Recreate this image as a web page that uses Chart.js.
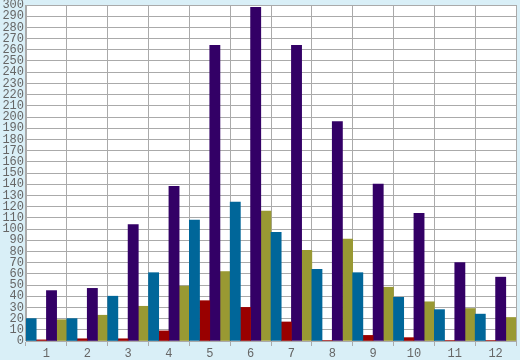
<!DOCTYPE html>
<html>
<head>
<meta charset="utf-8">
<script src="https://cdn.jsdelivr.net/npm/chart.js@4/dist/chart.umd.min.js"></script>
<style>
  html, body { margin: 0; padding: 0; background: #d9eff7; }
  #wrap { width: 520px; height: 360px; position: relative; }
</style>
</head>
<body>
<div id="wrap"><canvas id="c" width="520" height="360"></canvas></div>
<script>
const categories = ['1','2','3','4','5','6','7','8','9','10','11','12'];
const seriesBlue   = [20, 20, 40, 61, 108, 124, 97, 64, 61, 39, 28, 24];
const seriesRed    = [1, 2, 2, 9, 36, 30, 17, 0.5, 5, 3, 0.5, 0.5];
const seriesPurple = [45, 47, 104, 138, 264, 298, 264, 196, 140, 114, 70, 57];
const seriesOlive  = [19, 23, 31, 49, 62, 116, 81, 91, 48, 35, 29, 21];
const yMin = 0, yMax = 300, yStep = 10;

const bgPlugin = {
  id: 'bg',
  beforeDraw(chart) {
    const ctx = chart.ctx, a = chart.chartArea;
    ctx.save();
    ctx.fillStyle = '#d9eff7';
    ctx.fillRect(0, 0, chart.width, chart.height);
    ctx.fillStyle = '#ffffff';
    ctx.fillRect(a.left, a.top, a.right - a.left, a.bottom - a.top);
    ctx.restore();
  }
};

const tickFont = { family: '"Liberation Mono", monospace', size: 12 };

new Chart(document.getElementById('c'), {
  type: 'bar',
  data: {
    labels: categories,
    datasets: [
      { data: seriesBlue, backgroundColor: '#006699' },
      { data: seriesRed, backgroundColor: '#990000' },
      { data: seriesPurple, backgroundColor: '#330066' },
      { data: seriesOlive, backgroundColor: '#999933' }
    ]
  },
  options: {
    responsive: false,
    animation: false,
    events: [],
    layout: { padding: { top: 0, right: 4, left: 0, bottom: 0 } },
    plugins: { legend: { display: false }, tooltip: { enabled: false } },
    datasets: { bar: { barPercentage: 1, categoryPercentage: 1, borderWidth: 0 } },
    scales: {
      x: {
        grid: { color: '#aaaaaa', lineWidth: 1, tickLength: 5, offset: true },
        border: { color: '#aaaaaa', width: 1 },
        ticks: { color: '#666666', font: tickFont, padding: 1, maxRotation: 0 },
        afterFit(s) { s.height = 19; }
      },
      y: {
        min: yMin, max: yMax,
        grid: { color: '#aaaaaa', lineWidth: 1, drawTicks: false },
        border: { color: '#aaaaaa', width: 1 },
        ticks: { stepSize: yStep, color: '#666666', font: tickFont, padding: 2, autoSkip: false },
        afterFit(s) { s.width = 26; s.paddingTop = 5; }
      }
    }
  },
  plugins: [bgPlugin]
});
</script>
</body>
</html>
